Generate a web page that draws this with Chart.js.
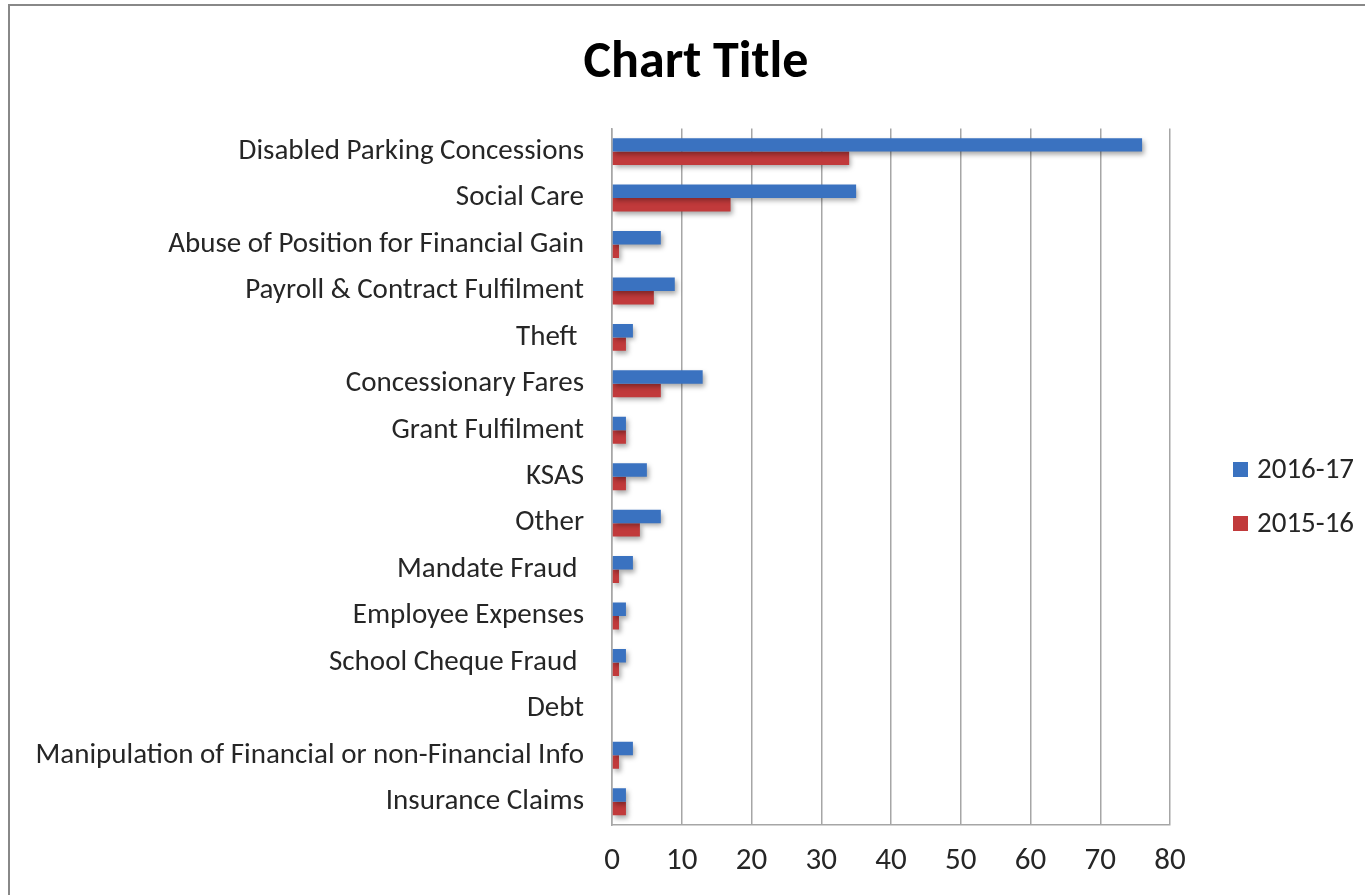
<!DOCTYPE html>
<html>
<head>
<meta charset="utf-8">
<script src="https://cdn.jsdelivr.net/npm/chart.js@4.4.1/dist/chart.umd.min.js"></script>
<style>
  html, body { margin: 0; padding: 0; background: #fff; overflow: hidden; }
  #frame {
    position: absolute; left: 8px; top: 4px;
    width: 1400px; height: 940px;
    border: 2px solid #888;
  }
  #wrap { position: absolute; left: 0; top: 0; width: 1365px; height: 895px; }
</style>
</head>
<body>
<div id="frame"></div>
<div id="wrap"><canvas id="chart"></canvas></div>
<script>
const categories = [
    'Disabled Parking Concessions',
    'Social Care',
    'Abuse of Position for Financial Gain',
    'Payroll & Contract Fulfilment',
    'Theft ',
    'Concessionary Fares',
    'Grant Fulfilment',
    'KSAS',
    'Other',
    'Mandate Fraud ',
    'Employee Expenses',
    'School Cheque Fraud ',
    'Debt',
    'Manipulation of Financial or non-Financial Info',
    'Insurance Claims'
];
const values2016 = [76, 35, 7, 9, 3, 13, 2, 5, 7, 3, 2, 2, 0, 3, 2];
const values2015 = [34, 17, 1, 6, 2, 7, 2, 2, 4, 1, 1, 1, 0, 1, 2];
const seriesLabels = ['2016-17', '2015-16'];
const xTicks = [0, 10, 20, 30, 40, 50, 60, 70, 80];

const FONT = 'Carlito, Lato, sans-serif';
const TEXT = '#262626';

// Soft drop shadow under the bars
const barShadow = {
    id: 'barShadow',
    beforeDatasetsDraw(chart) {
        const ctx = chart.ctx;
        ctx.save();
        ctx.shadowColor = 'rgba(0,0,0,0.35)';
        ctx.shadowBlur = 5;
        ctx.shadowOffsetX = 2;
        ctx.shadowOffsetY = 3;
    },
    afterDatasetsDraw(chart) {
        chart.ctx.restore();
    }
};

// Legend to the right of the plot, drawn from the dataset labels/colours
const sideLegend = {
    id: 'sideLegend',
    afterDraw(chart) {
        const ctx = chart.ctx;
        ctx.save();
        ctx.font = '29px ' + FONT;
        ctx.textBaseline = 'middle';
        chart.data.datasets.forEach((ds, i) => {
            const cy = 469.5 + i * 54;
            ctx.fillStyle = ds.backgroundColor;
            ctx.fillRect(1233, cy - 7.5, 15, 15);
            ctx.fillStyle = TEXT;
            ctx.fillText(ds.label, 1257, cy + 1);
        });
        ctx.restore();
    }
};

new Chart(document.getElementById('chart'), {
    type: 'bar',
    data: {
        labels: categories,
        datasets: [
            {
                label: seriesLabels[0],
                data: values2016,
                backgroundColor: '#3a72c0',
                categoryPercentage: 0.58,
                barPercentage: 1.0,
            },
            {
                label: seriesLabels[1],
                data: values2015,
                backgroundColor: '#c13a3b',
                categoryPercentage: 0.58,
                barPercentage: 1.0,
            },
        ],
    },
    options: {
        indexAxis: 'y',
        responsive: true,
        maintainAspectRatio: false,
        animation: false,
        layout: { padding: { left: 27, right: 0, top: 0, bottom: 0 } },
        plugins: {
            legend: { display: false },
            tooltip: { enabled: false },
            title: {
                display: true,
                text: 'Chart Title',
                color: '#000',
                font: { family: FONT, size: 52, weight: 'bold', lineHeight: 1.2 },
                padding: { top: 33, bottom: 33 },
            },
        },
        scales: {
            x: {
                min: 0,
                max: 80,
                afterBuildTicks: s => { s.ticks = xTicks.map(v => ({ value: v })); },
                afterFit: s => { s.height = 70; },
                grid: { color: '#a6a6a6', lineWidth: 1.5, drawTicks: false },
                border: { color: '#a6a6a6', width: 1.5 },
                ticks: { color: TEXT, padding: 18, font: { family: FONT, size: 31 } },
            },
            y: {
                afterFit: s => { s.width = 585; },
                grid: { display: false, drawTicks: false },
                border: { color: '#a6a6a6', width: 1.5 },
                ticks: { color: TEXT, padding: 28, font: { family: FONT, size: 29 } },
            },
            legendSpace: {
                type: 'linear',
                position: 'right',
                display: true,
                afterFit: s => { s.width = 195; },
                grid: { display: false },
                border: { display: false },
                ticks: { display: false },
            },
        },
    },
    plugins: [barShadow, sideLegend],
});
</script>
</body>
</html>
